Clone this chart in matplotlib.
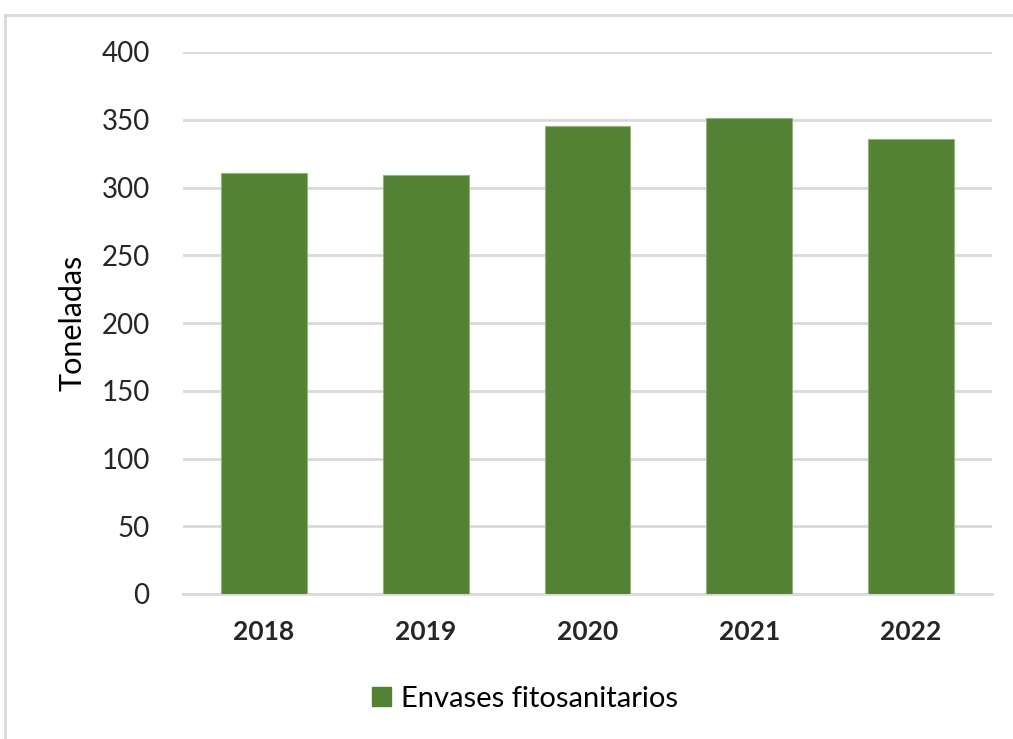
import matplotlib
matplotlib.use("Agg")
import matplotlib.pyplot as plt
from matplotlib.lines import Line2D

years = ["2018", "2019", "2020", "2021", "2022"]
values = [310.5, 309, 345.5, 351, 336]
series_name = "Envases fitosanitarios"
yticks = [0, 50, 100, 150, 200, 250, 300, 350, 400]

plt.rcParams['font.family'] = ['Lato', 'DejaVu Sans']

W, H = 1013, 739
fig = plt.figure(figsize=(W/100, H/100), dpi=100)
ax = fig.add_axes([183/W, 1-594/H, (992-183)/W, (594-52)/H])

color = "#548235"
x = range(len(years))
ax.bar(x, values, width=0.53, color=color, edgecolor="#8fb57a", linewidth=0.8, zorder=3, label=series_name)
ax.set_xlim(-0.5, len(years)-0.5)
ax.set_ylim(0, 400)
ax.set_yticks(yticks)
ax.set_yticklabels([str(t) for t in yticks], fontsize=20, color="#262626")
ax.set_xticks(list(x))
ax.set_xticklabels(years, fontsize=19, fontweight="bold", color="#262626")
ax.tick_params(axis="both", length=0)
ax.tick_params(axis="y", pad=24)
ax.tick_params(axis="x", pad=19)
ax.grid(axis="y", color="#d9d9d9", linewidth=2, zorder=0)
for s in ["top", "right", "left"]:
    ax.spines[s].set_visible(False)
ax.spines["bottom"].set_color("#d9d9d9")
ax.spines["bottom"].set_linewidth(2)
ax.set_ylabel("Toneladas", fontsize=22, color="#000000", labelpad=11)

leg = fig.legend(handles=[plt.Rectangle((0, 0), 1, 1, color=color)], labels=[series_name],
                 loc="center", bbox_to_anchor=(525/W, 1-699/H), frameon=False, fontsize=21,
                 handlelength=0.65, handleheight=0.65, handletextpad=0.35)

# outer border
fig.add_artist(Line2D([5/W, 1], [1-15/H, 1-15/H], color="#d9d9d9", linewidth=2, transform=fig.transFigure))
fig.add_artist(Line2D([5/W, 5/W], [0, 1-15/H], color="#d9d9d9", linewidth=2, transform=fig.transFigure))

fig.savefig("out.png", dpi=100, facecolor="white")
